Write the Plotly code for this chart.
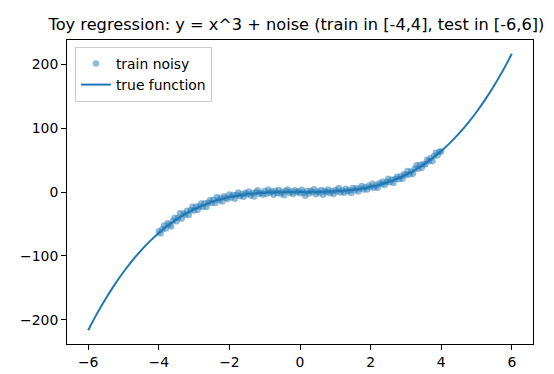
import plotly.graph_objects as go

train_x = [
    -4.00, -3.95, -3.90, -3.85, -3.80, -3.75, -3.70, -3.65, -3.60, -3.55,
    -3.50, -3.45, -3.40, -3.35, -3.30, -3.25, -3.20, -3.15, -3.10, -3.05,
    -3.00, -2.95, -2.90, -2.85, -2.80, -2.75, -2.70, -2.65, -2.60, -2.55,
    -2.50, -2.45, -2.40, -2.35, -2.30, -2.25, -2.20, -2.15, -2.10, -2.05,
    -2.00, -1.95, -1.90, -1.85, -1.80, -1.75, -1.70, -1.65, -1.60, -1.55,
    -1.50, -1.45, -1.40, -1.35, -1.30, -1.25, -1.20, -1.15, -1.10, -1.05,
    -1.00, -0.95, -0.90, -0.85, -0.80, -0.75, -0.70, -0.65, -0.60, -0.55,
    -0.50, -0.45, -0.40, -0.35, -0.30, -0.25, -0.20, -0.15, -0.10, -0.05,
    0.00,
    0.05, 0.10, 0.15, 0.20, 0.25, 0.30, 0.35, 0.40, 0.45, 0.50,
    0.55, 0.60, 0.65, 0.70, 0.75, 0.80, 0.85, 0.90, 0.95, 1.00,
    1.05, 1.10, 1.15, 1.20, 1.25, 1.30, 1.35, 1.40, 1.45, 1.50,
    1.55, 1.60, 1.65, 1.70, 1.75, 1.80, 1.85, 1.90, 1.95, 2.00,
    2.05, 2.10, 2.15, 2.20, 2.25, 2.30, 2.35, 2.40, 2.45, 2.50,
    2.55, 2.60, 2.65, 2.70, 2.75, 2.80, 2.85, 2.90, 2.95, 3.00,
    3.05, 3.10, 3.15, 3.20, 3.25, 3.30, 3.35, 3.40, 3.45, 3.50,
    3.55, 3.60, 3.65, 3.70, 3.75, 3.80, 3.85, 3.90, 3.95, 4.00,
]

train_y = [
    -61.3, -64.8, -58.2, -52.3, -57.0, -48.9, -51.2, -54.0, -45.0, -40.3,
    -45.8, -40.5, -33.1, -41.5, -33.6, -35.5, -29.5, -35.8, -28.4, -23.0,
    -28.8, -22.8, -28.0, -22.8, -17.8, -23.4, -17.7, -23.3, -16.7, -13.0,
    -17.0, -12.3, -17.1, -7.9, -13.0, -9.9, -14.8, -6.7, -8.8, -10.9,
    -3.9, -8.3, -4.8, -10.7, -4.6, -0.7, -6.6, -3.7, -7.6, -1.0,
    -3.7, 0.9, -5.6, -1.9, -7.2, -0.2, 2.7, -2.6, -1.1, -4.2,
    1.6, -2.9, 3.8, -1.2, 0.9, -4.3, 2.0, -1.7, 3.1, -2.6,
    0.4, -5.2, 1.6, 3.8, -1.2, 0.9, -3.2, 2.9, -0.5, 1.2,
    -2.1,
    3.5, -0.9, -5.7, 1.4, -2.5, 2.1, -0.3, 4.3, -3.5, 0.9,
    -1.3, 3.1, -4.2, 1.4, -0.4, 4.1, -2.1, 1.0, -3.2, 3.0,
    0.6, 6.1, -0.8, 2.6, -1.3, 4.9, 1.1, 2.9, -1.7, 6.4,
    2.6, 5.9, 0.7, 5.5, 9.5, 3.8, 7.5, 3.9, 9.8, 7.5,
    13.0, 6.7, 10.7, 6.7, 13.5, 12.0, 16.3, 10.9, 15.8, 20.6,
    15.1, 19.3, 14.2, 20.2, 23.8, 19.9, 24.5, 20.9, 28.3, 26.1,
    32.9, 27.4, 31.9, 28.6, 36.3, 41.8, 36.2, 42.5, 37.8, 43.8,
    42.9, 50.5, 48.0, 53.1, 47.9, 56.1, 61.3, 57.6, 63.1, 63.2,
]

true_x = [
    -6.00, -5.75, -5.50, -5.25, -5.00, -4.75, -4.50, -4.25, -4.00, -3.75,
    -3.50, -3.25, -3.00, -2.75, -2.50, -2.25, -2.00, -1.75, -1.50, -1.25,
    -1.00, -0.75, -0.50, -0.25, 0.00, 0.25, 0.50, 0.75, 1.00, 1.25,
    1.50, 1.75, 2.00, 2.25, 2.50, 2.75, 3.00, 3.25, 3.50, 3.75,
    4.00, 4.25, 4.50, 4.75, 5.00, 5.25, 5.50, 5.75, 6.00,
]

true_y = [
    -216.0, -190.109, -166.375, -144.703, -125.0, -107.172, -91.125, -76.766, -64.0, -52.734,
    -42.875, -34.328, -27.0, -20.797, -15.625, -11.391, -8.0, -5.359, -3.375, -1.953,
    -1.0, -0.422, -0.125, -0.016, 0.0, 0.016, 0.125, 0.422, 1.0, 1.953,
    3.375, 5.359, 8.0, 11.391, 15.625, 20.797, 27.0, 34.328, 42.875, 52.734,
    64.0, 76.766, 91.125, 107.172, 125.0, 144.703, 166.375, 190.109, 216.0,
]

x_ticks = [-6, -4, -2, 0, 2, 4, 6]
y_ticks = [-200, -100, 0, 100, 200]

BLUE = "#1f77b4"
FONT = "DejaVu Sans"

fig = go.Figure()
fig.add_trace(go.Scatter(
    x=train_x, y=train_y, mode="markers", name="train noisy",
    marker=dict(color=BLUE, size=6.5, opacity=0.5, line=dict(width=0)),
))
fig.add_trace(go.Scatter(
    x=true_x, y=true_y, mode="lines", name="true function",
    line=dict(color=BLUE, width=2, shape="spline"),
))

axis_common = dict(
    showgrid=False, zeroline=False, showline=True, linecolor="black", linewidth=1,
    mirror=True, ticks="outside", ticklen=5, tickwidth=1, tickcolor="black",
    tickfont=dict(family=FONT, size=13.9, color="black"),
)

fig.update_layout(
    width=554, height=374,
    margin=dict(l=57, r=29, t=32, b=34),
    paper_bgcolor="white", plot_bgcolor="white",
    font=dict(family=FONT, color="black"),
    title=dict(
        text="Toy regression: y = x^3 + noise (train in [-4,4], test in [-6,6])",
        x=288.5 / 554, xanchor="center", y=1 - 16 / 374, yanchor="middle",
        font=dict(family=FONT, size=16.2, color="black"),
    ),
    xaxis=dict(range=[-6.6, 6.6], tickvals=x_ticks, **axis_common),
    yaxis=dict(range=[-237.6, 237.6], tickvals=y_ticks, **axis_common),
    legend=dict(
        x=0.017, y=0.977, xanchor="left", yanchor="top",
        bgcolor="rgba(255,255,255,0.8)", bordercolor="#cccccc", borderwidth=1,
        font=dict(family=FONT, size=13.9, color="black"),
        itemwidth=30, tracegroupgap=0,
    ),
    showlegend=True,
)

fig.write_html("out.html")
